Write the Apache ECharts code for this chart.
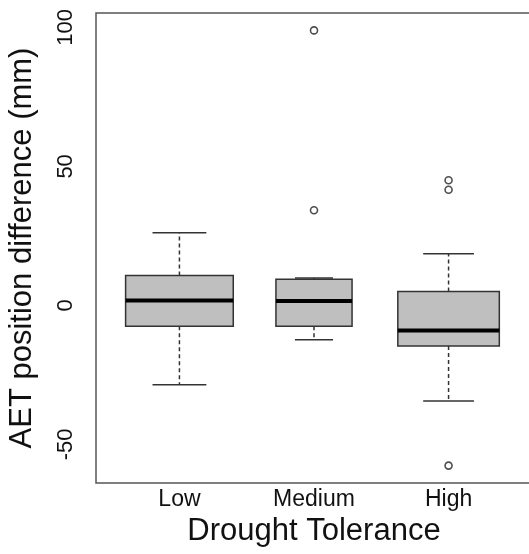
<!DOCTYPE html>
<html><head><meta charset="utf-8">
<script src="https://cdn.jsdelivr.net/npm/echarts@6/dist/echarts.min.js"></script>
<style>html,body{margin:0;padding:0;background:#fff}#chart{width:529px;height:554px}</style>
</head><body><div id="chart"></div>
<script>
// Boxplot summary for each drought-tolerance group (mm)
const categories = ['Low', 'Medium', 'High'];
const groupSizes = [18, 9, 16];
const whiskerLow = [-28.5, -12.3, -34.4];
const q1 = [-7.5, -7.5, -14.6];
const medians = [1.8, 1.6, -9.0];
const q3 = [10.8, 9.4, 5.0];
const whiskerHigh = [26.1, 9.9, 18.6];
// Outliers: group position (1 = Low, 2 = Medium, 3 = High) and value
const outlierGroup = [2, 2, 3, 3, 3];
const outlierValues = [98.9, 34.2, 45.0, 41.6, -57.6];
const yTickValues = [-50, 0, 50, 100];

// Axis limits padded by 4% on each side, like base R graphics
const allVals = whiskerLow.concat(whiskerHigh, outlierValues);
const lo = Math.min.apply(null, allVals), hi = Math.max.apply(null, allVals);
const pad = (hi - lo) * 0.04;
const yMin = lo - pad, yMax = hi + pad;
const xMin = 0.5 - 0.04 * 3, xMax = 3.5 + 0.04 * 3;

// Box width proportional to sqrt(n) (varwidth), widest box = 0.8 units
const maxRootN = Math.sqrt(Math.max.apply(null, groupSizes));
const boxRows = categories.map((c, i) => [i + 1, whiskerLow[i], q1[i], medians[i], q3[i], whiskerHigh[i],
  0.8 * Math.sqrt(groupSizes[i]) / maxRootN]);
const outlierRows = outlierGroup.map((g, i) => [g, outlierValues[i]]);

const FONT = '"Liberation Sans", Arial, Helvetica, sans-serif';
const chart = echarts.init(document.getElementById('chart'), null, {renderer: 'canvas'});

function renderBox(params, api) {
  const x = api.value(0);
  const w = api.value(6);
  const halfBox = api.size([w / 2, 0])[0];
  const halfCap = api.size([w / 4, 0])[0];
  const pLow = api.coord([x, api.value(1)]);
  const pQ1 = api.coord([x, api.value(2)]);
  const pMed = api.coord([x, api.value(3)]);
  const pQ3 = api.coord([x, api.value(4)]);
  const pHigh = api.coord([x, api.value(5)]);
  const cx = pMed[0];
  const dash = {stroke: '#333', lineWidth: 1.5, lineDash: [4, 3]};
  const solid = {stroke: '#333', lineWidth: 1.5};
  return {
    type: 'group',
    children: [
      {type: 'line', shape: {x1: cx, y1: pQ3[1], x2: cx, y2: pHigh[1]}, style: dash},
      {type: 'line', shape: {x1: cx, y1: pQ1[1], x2: cx, y2: pLow[1]}, style: dash},
      {type: 'line', shape: {x1: cx - halfCap, y1: pHigh[1], x2: cx + halfCap, y2: pHigh[1]}, style: solid},
      {type: 'line', shape: {x1: cx - halfCap, y1: pLow[1], x2: cx + halfCap, y2: pLow[1]}, style: solid},
      {type: 'rect', shape: {x: cx - halfBox, y: pQ3[1], width: halfBox * 2, height: pQ1[1] - pQ3[1]},
        style: {fill: '#BFBFBF', stroke: '#333', lineWidth: 1.5}},
      {type: 'line', shape: {x1: cx - halfBox, y1: pMed[1], x2: cx + halfBox, y2: pMed[1]},
        style: {stroke: '#000', lineWidth: 4}}
    ]
  };
}

chart.setOption({
  animation: false,
  backgroundColor: '#fff',
  grid: {left: 96, top: 13, width: 436, height: 470, show: true, outerBoundsMode: 'none',
    borderColor: '#555', borderWidth: 1.5, backgroundColor: 'transparent'},
  xAxis: {
    type: 'value', min: xMin, max: xMax,
    name: 'Drought Tolerance', nameLocation: 'middle', nameGap: 32,
    nameTextStyle: {fontFamily: FONT, fontSize: 31, color: '#111'},
    axisLine: {show: false}, axisTick: {show: false}, splitLine: {show: false},
    axisLabel: {customValues: [1, 2, 3], formatter: v => categories[Math.round(v) - 1] || '',
      fontFamily: FONT, fontSize: 23, color: '#111', margin: 5}
  },
  yAxis: {
    type: 'value', min: yMin, max: yMax,
    name: 'AET position difference (mm)', nameLocation: 'middle', nameRotate: 90, nameGap: 58,
    nameTextStyle: {fontFamily: FONT, fontSize: 31, color: '#111'},
    axisLine: {show: false}, axisTick: {show: false}, splitLine: {show: false},
    axisLabel: {customValues: yTickValues, rotate: 90, fontFamily: FONT, fontSize: 22, color: '#111', margin: 19}
  },
  series: [
    {type: 'custom', renderItem: renderBox, data: boxRows, encode: {x: 0, y: [1, 2, 3, 4, 5]}, clip: false},
    {type: 'scatter', data: outlierRows, symbol: 'circle', symbolSize: 7,
      itemStyle: {color: 'transparent', borderColor: '#222', borderWidth: 1.6}}
  ]
});
</script></body></html>
